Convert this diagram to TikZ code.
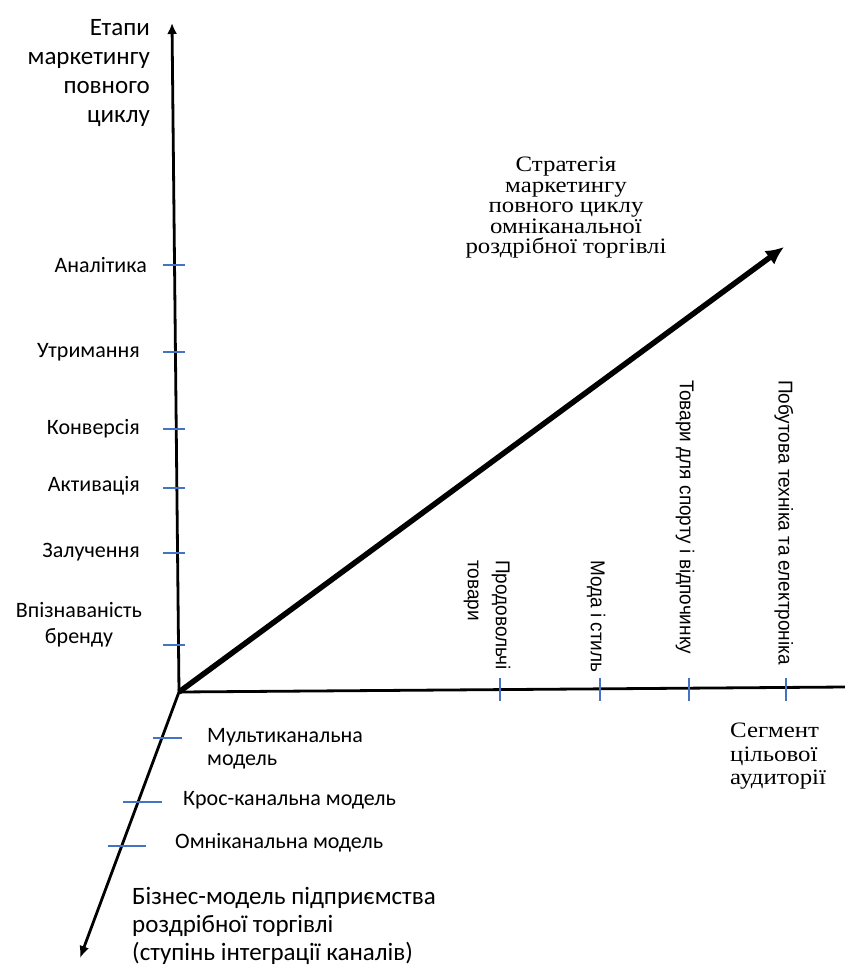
\documentclass[tikz,border=0pt]{standalone}
\usepackage{fontspec}
\setmainfont{Carlito}
\newfontfamily\serifcyr[FakeStretch=1.13]{Liberation Serif}
\newfontfamily\narrowcyr[FakeStretch=0.95]{Liberation Sans}
\usepackage{tikz}
\usetikzlibrary{arrows.meta, positioning}
\definecolor{tickblue}{HTML}{4472C4}

\begin{document}
\begin{tikzpicture}[x=1pt, y=-1pt,
  axis/.style={line width=2.8pt},
  tickmark/.style={draw=tickblue, line width=1.3pt},
  stage/.style={font=\fontsize{22}{26}\selectfont, inner sep=0pt},
  seg/.style={font=\narrowcyr\fontsize{20}{28}\selectfont, rotate=-90, anchor=west, align=left, inner sep=0pt},
  capt/.style={font=\fontsize{25}{29}\selectfont, inner sep=0pt},
  sercapt/.style={font=\serifcyr\fontsize{22}{23.5}\selectfont, inner sep=0pt}]
  \useasboundingbox (0,0) rectangle (845,967);

  % axes
  \coordinate (orig) at (179,692);
  \coordinate (ytop) at (172,23);
  \coordinate (xend) at (845,687);
  \coordinate (dtip) at (784,247);
  \coordinate (ztip) at (80,958);
  \draw[axis, -{Latex[length=11pt, width=10pt]}] (orig) -- (ytop);
  \draw[axis] (orig) -- (xend);
  \draw[axis, -{Latex[length=12pt, width=10pt]}] (orig) -- (ztip);
  \draw[line width=5.5pt, -{Latex[length=18pt, width=17pt]}] (orig) -- (dtip);

  % ticks
  \foreach \y in {265,352,429,488,553,645}
    \draw[tickmark] (163,\y) -- (185,\y);
  \foreach \x in {500,600,689,786}
    \draw[tickmark] (\x,678) -- (\x,701);
  \draw[tickmark] (153,738) -- (182,738);
  \draw[tickmark] (123,802) -- (162,802);
  \draw[tickmark] (108,846) -- (146,846);

  % stages of the cycle
  \node[capt, align=right, anchor=north east] (ytitle) at (150,19)
      {Етапи\\маркетингу\\повного\\циклу};
  \node[stage, anchor=east] (st6) at (147,265) {Аналітика};
  \node[stage, anchor=east] (st5) at (140,352) {Утримання};
  \node[stage, anchor=east] (st4) at (140,429) {Конверсія};
  \node[stage, anchor=east] (st3) at (140,486) {Активація};
  \node[stage, anchor=east] (st2) at (140,552) {Залучення};
  \node[stage, align=center] (st1) at (79,625) {Впізнаваність\\бренду};

  % segments
  \node[seg] (sg1) at (487,560) {Продовольчі\\товари};
  \node[seg] (sg2) at (596,560) {Мода і стиль};
  \node[seg] (sg3) at (685,380) {Товари для спорту і відпочинку};
  \node[seg] (sg4) at (784,380) {Побутова техніка та електроніка};
  \node[sercapt, align=left, anchor=north west] (xtitle) at (730,723)
      {Сегмент\\цільової\\аудиторії};

  % business models
  \node[stage, align=left, anchor=north west, font=\fontsize{22}{23}\selectfont] (bm1) at (207,728)
      {Мультиканальна\\модель};
  \node[stage, anchor=west] (bm2) at (183,800) {Крос-канальна модель};
  \node[stage, anchor=west] (bm3) at (175,843) {Омніканальна модель};
  \node[capt, font=\fontsize{25}{28}\selectfont, align=left, anchor=north west] (ztitle) at (132,887)
      {Бізнес-модель підприємства\\роздрібної торгівлі\\(ступінь інтеграції каналів)};

  \node[sercapt, font=\serifcyr\fontsize{22}{20.5}\selectfont, align=center] (dtitle) at (566,208)
      {Стратегія\\маркетингу\\повного циклу\\омніканальної\\роздрібної торгівлі};
\end{tikzpicture}
\end{document}
